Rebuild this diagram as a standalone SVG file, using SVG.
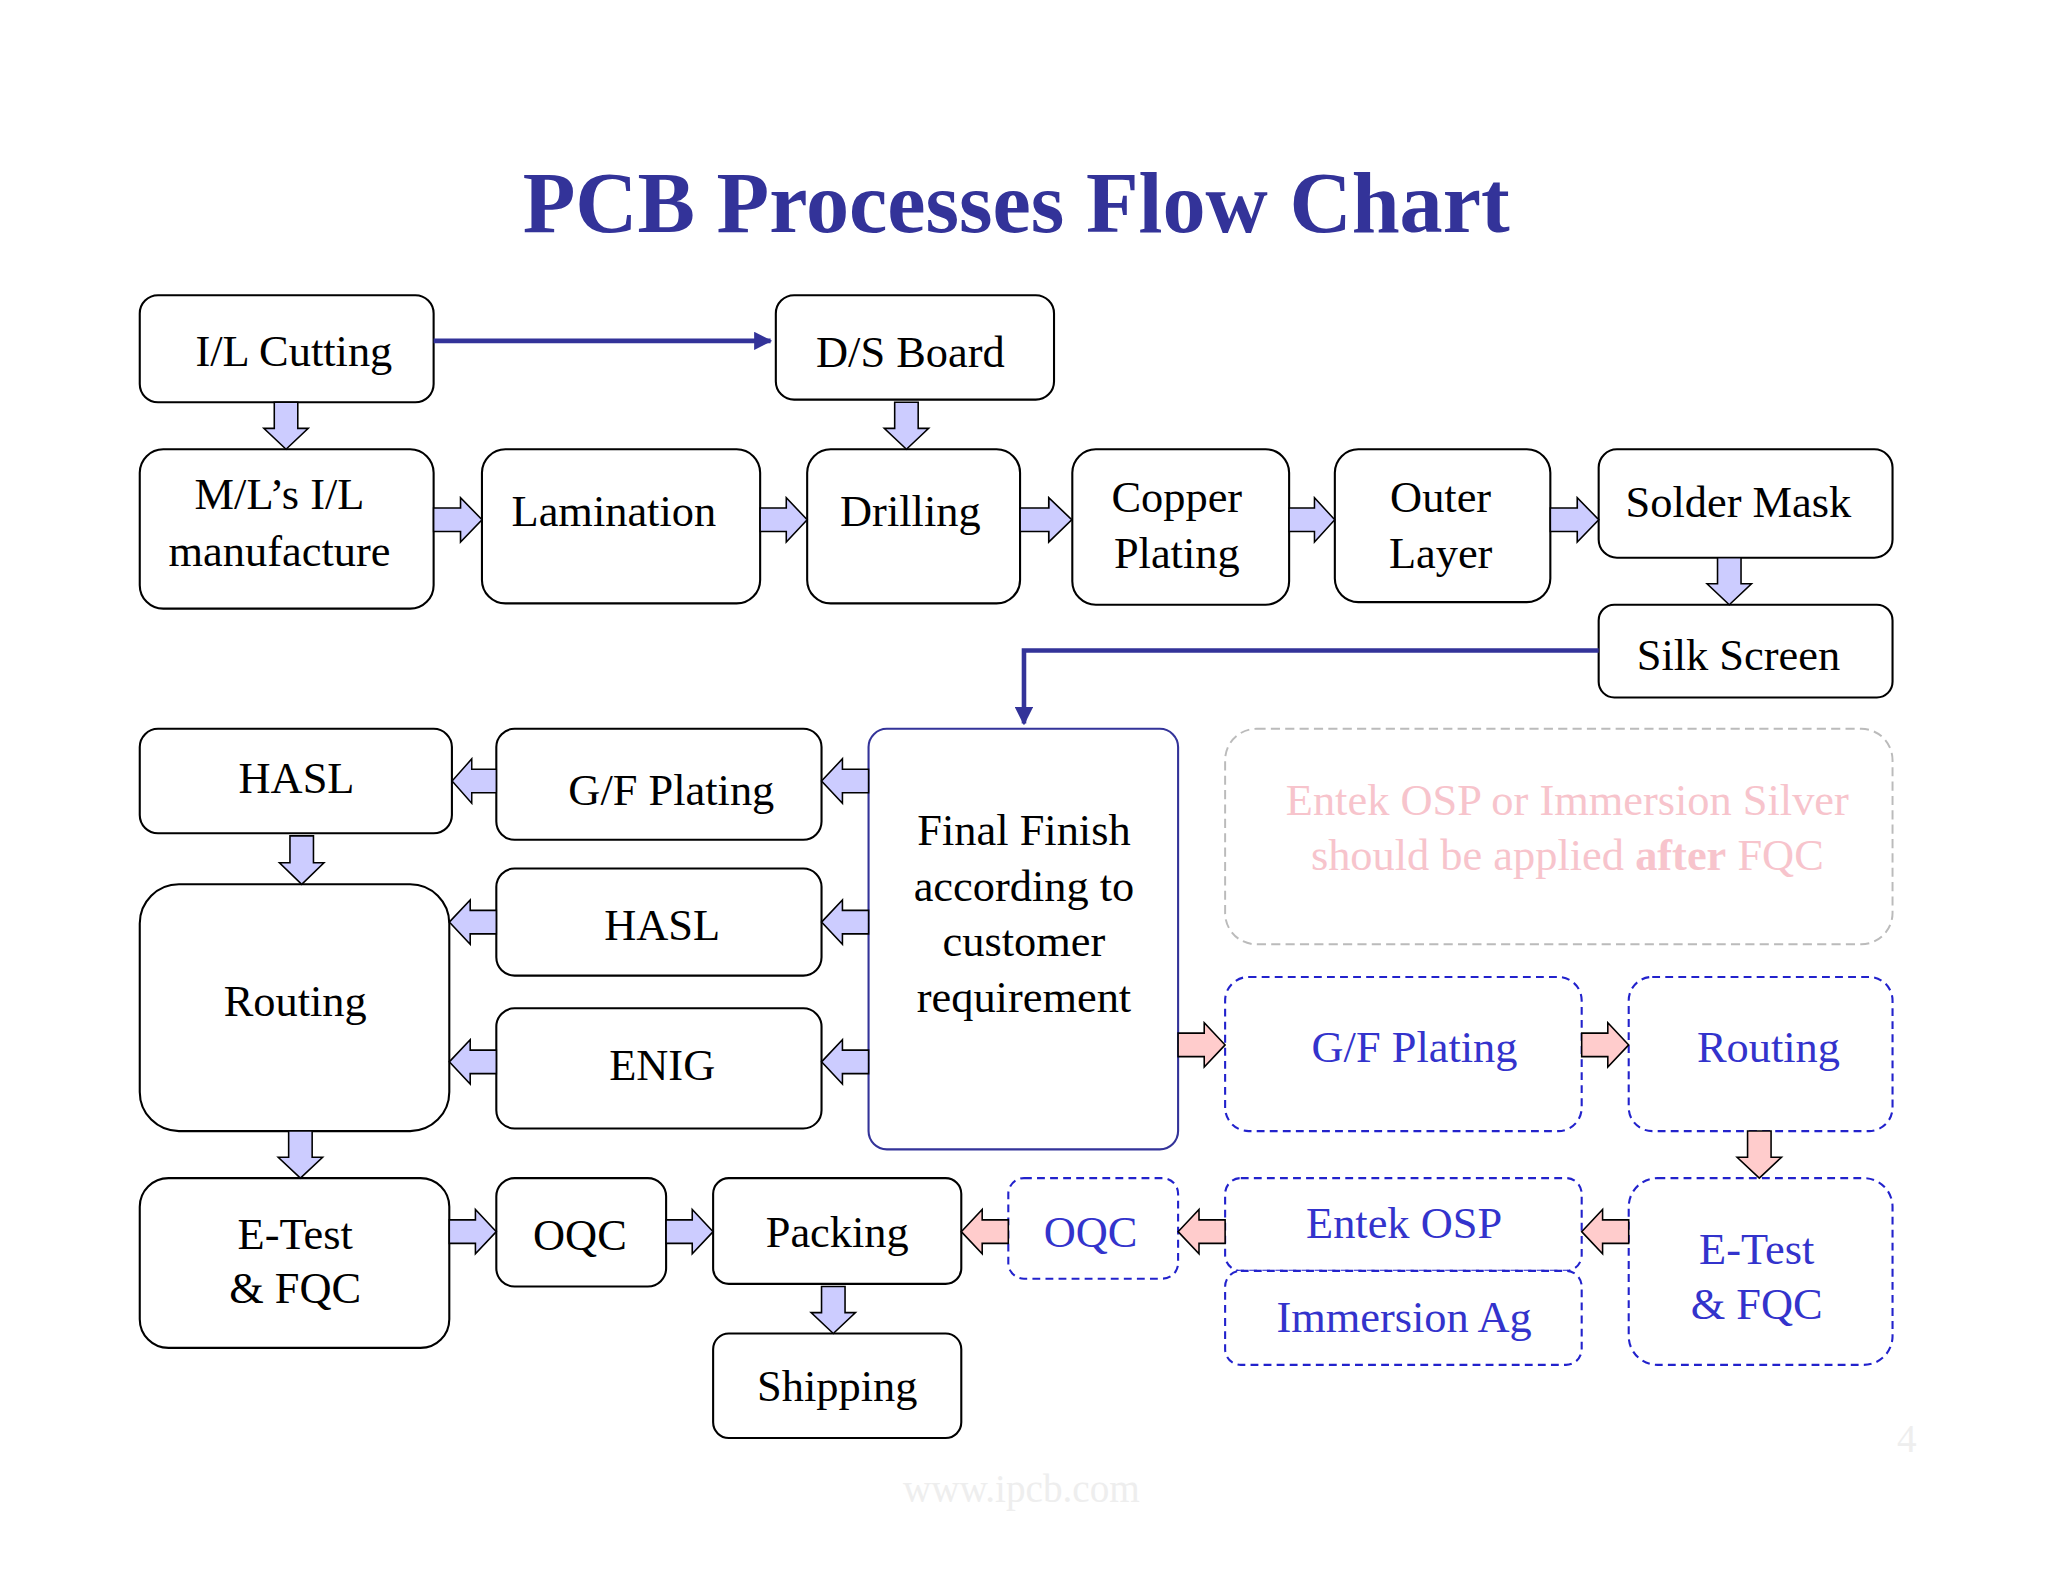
<svg xmlns="http://www.w3.org/2000/svg" xmlns:xlink="http://www.w3.org/1999/xlink" width="2048" height="1582" viewBox="0 0 2048 1582">
<style>
text{font-family:"Liberation Serif","Times New Roman",serif;text-anchor:middle;font-size:34px;fill:#000}
.b rect{fill:#fff;stroke:#000;stroke-width:1.6}
.d rect{fill:#fff;stroke:#2222cc;stroke-width:1.6;stroke-dasharray:6 4}
.d text{fill:#3333cc}
.pa{fill:#ccccff;stroke:#000;stroke-width:1.2}
.pk{fill:#ffcccc;stroke:#000;stroke-width:1.2}
.ln{fill:none;stroke:#333399;stroke-width:3.5}
</style>
<defs>
<path id="ar" d="M0,-9 H20 V-17 L36,0 L20,17 V9 H0 Z"/>
<marker id="m" viewBox="0 0 10 10" refX="9" refY="5" markerWidth="4" markerHeight="4" orient="auto" markerUnits="strokeWidth"><path d="M0,0 L10,5 L0,10 Z" fill="#333399"/></marker>
</defs>
<rect width="2048" height="1582" fill="#fff"/>
<g transform="scale(1.3061)">
<text x="778" y="178" style="font-size:66px;font-weight:bold;fill:#333399">PCB Processes Flow Chart</text>
<g id="n1" class="b"><rect x="107" y="226" width="225" height="82" rx="14"/><text x="225" y="280">I/L Cutting</text></g>
<g id="n2" class="b"><rect x="594" y="226" width="213" height="80" rx="14"/><text x="697" y="281">D/S Board</text></g>
<g id="n3" class="b"><rect x="107" y="344" width="225" height="122" rx="18"/><text x="214" y="390">M/L’s I/L</text><text x="214" y="433">manufacture</text></g>
<g id="n4" class="b"><rect x="369" y="344" width="213" height="118" rx="18"/><text x="470" y="403">Lamination</text></g>
<g id="n5" class="b"><rect x="618" y="344" width="163" height="118" rx="18"/><text x="697" y="403">Drilling</text></g>
<g id="n6" class="b"><rect x="821" y="344" width="166" height="119" rx="18"/><text x="901" y="392">Copper</text><text x="901" y="435">Plating</text></g>
<g id="n7" class="b"><rect x="1022" y="344" width="165" height="117" rx="18"/><text x="1103" y="392">Outer</text><text x="1103" y="435">Layer</text></g>
<g id="n8" class="b"><rect x="1224" y="344" width="225" height="83" rx="14"/><text x="1331" y="396">Solder Mask</text></g>
<g id="n9" class="b"><rect x="1224" y="463" width="225" height="71" rx="12"/><text x="1331" y="513">Silk Screen</text></g>
<g id="n10" class="b"><rect x="107" y="558" width="239" height="80" rx="14"/><text x="227" y="607">HASL</text></g>
<g id="n11" class="b"><rect x="380" y="558" width="249" height="85" rx="14"/><text x="514" y="616">G/F Plating</text></g>
<g id="n12"><rect x="665" y="558" width="237" height="322" rx="14" fill="#fff" stroke="#333399" stroke-width="1.6"/><text x="784" y="647">Final Finish</text><text x="784" y="690">according to</text><text x="784" y="732">customer</text><text x="784" y="775">requirement</text></g>
<g id="n13" class="b"><rect x="107" y="677" width="237" height="189" rx="30"/><text x="226" y="778">Routing</text></g>
<g id="n14" class="b"><rect x="380" y="665" width="249" height="82" rx="14"/><text x="507" y="720">HASL</text></g>
<g id="n15" class="b"><rect x="380" y="772" width="249" height="92" rx="14"/><text x="507" y="827">ENIG</text></g>
<g id="n16"><rect x="938" y="558" width="511" height="165" rx="24" fill="#fff" stroke="#bbb" stroke-width="1.5" stroke-dasharray="7 4"/><text x="1200" y="624" style="fill:#f7c4cc">Entek OSP or Immersion Silver</text><text x="1200" y="666" style="fill:#f7c4cc">should be applied <tspan style="font-weight:bold">after</tspan> FQC</text></g>
<g id="n17" class="d"><rect x="938" y="748" width="273" height="118" rx="18"/><text x="1083" y="813">G/F Plating</text></g>
<g id="n18" class="d"><rect x="1247" y="748" width="202" height="118" rx="18"/><text x="1354" y="813">Routing</text></g>
<g id="n19" class="b"><rect x="107" y="902" width="237" height="130" rx="22"/><text x="226" y="956">E-Test</text><text x="226" y="998">&amp; FQC</text></g>
<g id="n20" class="b"><rect x="380" y="902" width="130" height="83" rx="14"/><text x="444" y="957">OQC</text></g>
<g id="n21" class="b"><rect x="546" y="902" width="190" height="81" rx="12"/><text x="641" y="955">Packing</text></g>
<g id="n22" class="b"><rect x="546" y="1021" width="190" height="80" rx="12"/><text x="641" y="1073">Shipping</text></g>
<g id="n23" class="d"><rect x="772" y="902" width="130" height="77" rx="12"/><text x="835" y="955">OQC</text></g>
<g id="n24" class="d"><rect x="938" y="902" width="273" height="71" rx="12"/><text x="1075" y="948">Entek OSP</text></g>
<g id="n25" class="d"><rect x="938" y="973" width="273" height="72" rx="12"/><text x="1075" y="1020">Immersion Ag</text></g>
<g id="n26" class="d"><rect x="1247" y="902" width="202" height="143" rx="22"/><text x="1345" y="968">E-Test</text><text x="1345" y="1010">&amp; FQC</text></g>
<text x="1460" y="1112" style="font-size:30px;fill:#eee">4</text>
<text x="782" y="1150" style="font-size:30px;fill:#eee">www.ipcb.com</text>
<g id="connectors">
<path class="ln" d="M332,261 H590" marker-end="url(#m)"/>
<path class="ln" d="M1224,498 H784 V554" marker-end="url(#m)"/>
<use href="#ar" class="pa" transform="translate(219,308) rotate(90)"/>
<use href="#ar" class="pa" transform="translate(694,308) rotate(90)"/>
<use href="#ar" class="pa" transform="translate(1324,427) rotate(90)"/>
<use href="#ar" class="pa" transform="translate(231,640) rotate(90) scale(1.03,1)"/>
<use href="#ar" class="pa" transform="translate(230,866) rotate(90)"/>
<use href="#ar" class="pa" transform="translate(638,985) rotate(90)"/>
<use href="#ar" class="pk" transform="translate(1347,866) rotate(90)"/>
<use href="#ar" class="pa" transform="translate(332,398) scale(1.03,1)"/>
<use href="#ar" class="pa" transform="translate(582,398)"/>
<use href="#ar" class="pa" transform="translate(781,398) scale(1.1,1)"/>
<use href="#ar" class="pa" transform="translate(987,398) scale(0.97,1)"/>
<use href="#ar" class="pa" transform="translate(1187,398) scale(1.03,1)"/>
<use href="#ar" class="pa" transform="translate(344,943)"/>
<use href="#ar" class="pa" transform="translate(510,943)"/>
<use href="#ar" class="pk" transform="translate(902,800)"/>
<use href="#ar" class="pk" transform="translate(1211,800)"/>
<use href="#ar" class="pa" transform="translate(665,598) rotate(180)"/>
<use href="#ar" class="pa" transform="translate(380,598) rotate(180) scale(0.94,1)"/>
<use href="#ar" class="pa" transform="translate(665,706) rotate(180)"/>
<use href="#ar" class="pa" transform="translate(380,706) rotate(180)"/>
<use href="#ar" class="pa" transform="translate(665,813) rotate(180)"/>
<use href="#ar" class="pa" transform="translate(380,813) rotate(180)"/>
<use href="#ar" class="pk" transform="translate(772,943) rotate(180)"/>
<use href="#ar" class="pk" transform="translate(938,943) rotate(180)"/>
<use href="#ar" class="pk" transform="translate(1247,943) rotate(180)"/>
</g>
</g>
</svg>
